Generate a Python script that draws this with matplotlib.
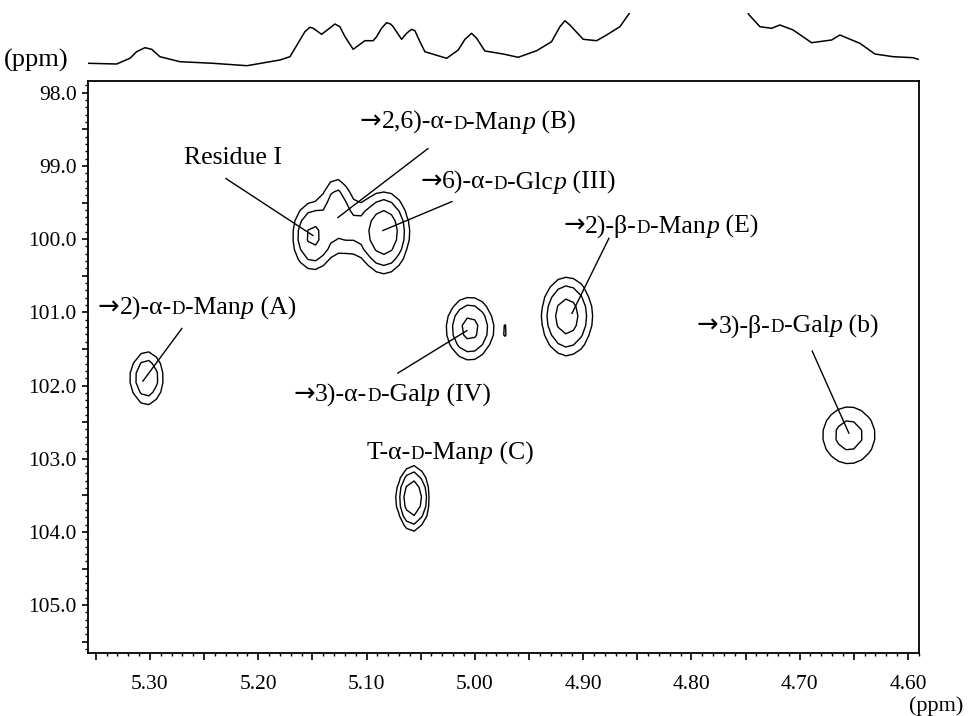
import numpy as np
import matplotlib
matplotlib.use("Agg")
import matplotlib.pyplot as plt
from matplotlib.ticker import MultipleLocator, FuncFormatter
from matplotlib.offsetbox import TextArea, HPacker, AnnotationBbox

plt.rcParams['font.family'] = ['Liberation Serif', 'DejaVu Serif']

# ---------------- data ----------------
# 1D projection trace (1H ppm, intensity)
trace_ppm = [5.3570, 5.3307, 5.3185, 5.3123, 5.3046, 5.2984, 5.2908, 5.2723, 5.2418, 5.2104,
             5.1800, 5.1707, 5.1615, 5.1569, 5.1523, 5.1492, 5.1415, 5.1354, 5.1292, 5.1246,
             5.1199, 5.1123, 5.1015, 5.0938, 5.0907, 5.0861, 5.0815, 5.0778, 5.0754, 5.0676,
             5.0630, 5.0584, 5.0553, 5.0507, 5.0461, 5.0260, 5.0153, 5.0091, 5.0030, 4.9983,
             4.9907, 4.9738, 4.9599, 4.9429, 4.9291, 4.9214, 4.9168, 4.9122, 4.8999, 4.8875,
             4.8783, 4.8660, 4.8584, 4.8450, 4.8000, 4.7550, 4.7466, 4.7367, 4.7259, 4.7183,
             4.7060, 4.6890, 4.6705, 4.6629, 4.6444, 4.6305, 4.6137, 4.5952, 4.5906]
trace_int = [6.7, 6.0, 11.7, 18.3, 22.3, 20.7, 13.3, 8.3, 6.7, 4.3,
             10.0, 13.3, 30.0, 38.3, 42.7, 41.7, 35.7, 40.7, 46.0, 43.3,
             33.3, 20.7, 29.3, 29.3, 33.3, 41.7, 47.3, 46.0, 43.3, 30.7,
             36.7, 40.7, 39.3, 28.3, 18.3, 11.7, 20.0, 30.7, 36.7, 31.7,
             19.0, 16.0, 12.7, 19.3, 28.3, 43.3, 49.3, 45.0, 30.7, 29.3,
             35.0, 43.3, 55.0, 75.0, 110.0, 70.0, 55.0, 43.3, 41.7, 45.0,
             40.0, 27.3, 30.0, 35.0, 26.7, 16.0, 13.3, 12.3, 10.7]

# 2D cross-peak components: 1H ppm, 13C ppm, height, widths (1H, 13C)
peak_names = ["A", "I", "B-upper", "B", "III", "IV", "minor", "E", "b", "C"]
peak_h = [5.303, 5.1495, 5.128, 5.118, 5.0839, 5.0045, 4.972, 4.915, 4.6546, 5.0572]
peak_c = [101.90, 99.96, 99.45, 99.85, 99.91, 101.22, 101.25, 101.056, 102.68, 103.54]
peak_amp = [3.7, 4.6, 2.2, 2.3, 7.0, 5.0, 1.15, 5.7, 2.6, 7.2]
peak_wh = [0.0092, 0.0105, 0.0080, 0.0120, 0.0117, 0.0119, 0.0030, 0.0124, 0.0174, 0.0074]
peak_wc = [0.22, 0.26, 0.20, 0.25, 0.28, 0.235, 0.11, 0.286, 0.277, 0.22]
contour_levels = [1.0, 2.0, 4.0]

# labels: (pieces, centre x ppm, centre y ppm, leader start, leader end)
labels = [
    ([("→", "a"), ("2,6)-α-", "n"), ("D", "sc"), ("-Man", "n"), ("p", "i"), (" (B)", "n")],
     (5.0064, 98.396), (5.0433, 98.764), (5.1264, 99.705)),
    ([("Residue I", "n")], (5.2234, 98.887), (5.2298, 99.173), (5.1495, 99.951)),
    ([("→", "a"), ("6)-α-", "n"), ("D", "sc"), ("-Glc", "n"), ("p", "i"), (" (III)", "n")],
     (4.9602, 99.214), (5.0211, 99.487), (5.0849, 99.883)),
    ([("→", "a"), ("2)-β-", "n"), ("D", "sc"), ("-Man", "n"), ("p", "i"), (" (E)", "n")],
     (4.8282, 99.815), (4.8762, 99.99), (4.9103, 101.015)),
    ([("→", "a"), ("2)-α-", "n"), ("D", "sc"), ("-Man", "n"), ("p", "i"), (" (A)", "n")],
     (5.2566, 100.933), (5.2705, 101.22), (5.3065, 101.94)),
    ([("→", "a"), ("3)-β-", "n"), ("D", "sc"), ("-Gal", "n"), ("p", "i"), (" (b)", "n")],
     (4.7109, 101.179), (4.6884, 101.53), (4.6546, 102.65)),
    ([("→", "a"), ("3)-α-", "n"), ("D", "sc"), ("-Gal", "n"), ("p", "i"), (" (IV)", "n")],
     (5.0765, 102.12), (5.0710, 101.83), (5.0073, 101.25)),
    ([("T-α-", "n"), ("D", "sc"), ("-Man", "n"), ("p", "i"), (" (C)", "n")],
     (5.0230, 102.925), None, None),
]

XMIN, XMAX = 5.3572, 4.5898
YTOP, YBOT = 97.836, 105.654

# ---------------- figure ----------------
W, H = 968, 716
fig = plt.figure(figsize=(W / 100, H / 100), dpi=100)
L, R, T, B = 88, 919, 80.7, 653
ax = fig.add_axes([L / W, 1 - B / H, (R - L) / W, (B - T) / H])
axt = fig.add_axes([L / W, 1 - 70 / H, (R - L) / W, (70 - 13) / H])

# trace
axt.plot(trace_ppm, trace_int, color="black", lw=1.1)
axt.set_xlim(XMIN, XMAX)
axt.set_ylim(0, 57)
axt.axis("off")

# 2D contour field
gx = np.arange(4.58, 5.37, 0.007)
gy = np.arange(97.8, 105.7, 0.13)
X, Y = np.meshgrid(gx, gy)
Z = np.zeros_like(X)
for h0, c0, a, wh, wc in zip(peak_h, peak_c, peak_amp, peak_wh, peak_wc):
    Z += a * np.exp(-0.5 * ((X - h0) / wh) ** 2 - 0.5 * ((Y - c0) / wc) ** 2)
ax.contour(X, Y, Z, levels=contour_levels, colors="black", linewidths=1.0)

ax.set_xlim(XMIN, XMAX)
ax.set_ylim(YBOT, YTOP)

ax.xaxis.set_major_locator(MultipleLocator(0.05))
ax.xaxis.set_minor_locator(MultipleLocator(0.01))
ax.yaxis.set_major_locator(MultipleLocator(0.5))
ax.yaxis.set_minor_locator(MultipleLocator(0.1))


def xfmt(v, pos):
    return f"{v:.2f}" if abs(round(v * 10) - v * 10) < 1e-6 else ""


def yfmt(v, pos):
    return f"{v:.1f}" if abs(round(v) - v) < 1e-6 else ""


ax.xaxis.set_major_formatter(FuncFormatter(xfmt))
ax.yaxis.set_major_formatter(FuncFormatter(yfmt))
ax.tick_params(axis="x", which="major", direction="out", length=5, width=1.2,
               labelsize=15.5, pad=11)
ax.tick_params(axis="y", which="major", direction="out", length=4, width=1.2,
               labelsize=15.5, pad=4)
ax.tick_params(which="minor", direction="out", length=2.2, width=1.0)
for s in ax.spines.values():
    s.set_linewidth(1.3)

fig.text(4 / W, 1 - 67 / H, "(ppm)", fontsize=19, ha="left", va="baseline")
fig.text(963 / W, 1 - 711 / H, "(ppm)", fontsize=16, ha="right", va="baseline")

# labels
BIG, SMALL = 18.5, 13.5
for pieces, (lx, ly), p0, p1 in labels:
    children = []
    for txt, st in pieces:
        if st == "n":
            props = dict(fontsize=BIG, family=["Liberation Serif", "DejaVu Serif"])
        elif st == "a":
            props = dict(fontsize=BIG, family=["DejaVu Sans"])
        elif st == "sc":
            props = dict(fontsize=SMALL, family=["Liberation Serif", "DejaVu Serif"])
        else:
            props = dict(fontsize=BIG, fontstyle="italic",
                         family=["Liberation Serif", "DejaVu Serif"])
        children.append(TextArea(txt, textprops=props))
    box = HPacker(children=children, align="baseline", pad=0, sep=0)
    ab = AnnotationBbox(box, (lx, ly), xycoords="data", box_alignment=(0.5, 0.5),
                        frameon=False, pad=0)
    ax.add_artist(ab)
    if p0 is not None:
        ax.plot([p0[0], p1[0]], [p0[1], p1[1]], color="black", lw=1.0)

fig.savefig("out.png", dpi=100)
